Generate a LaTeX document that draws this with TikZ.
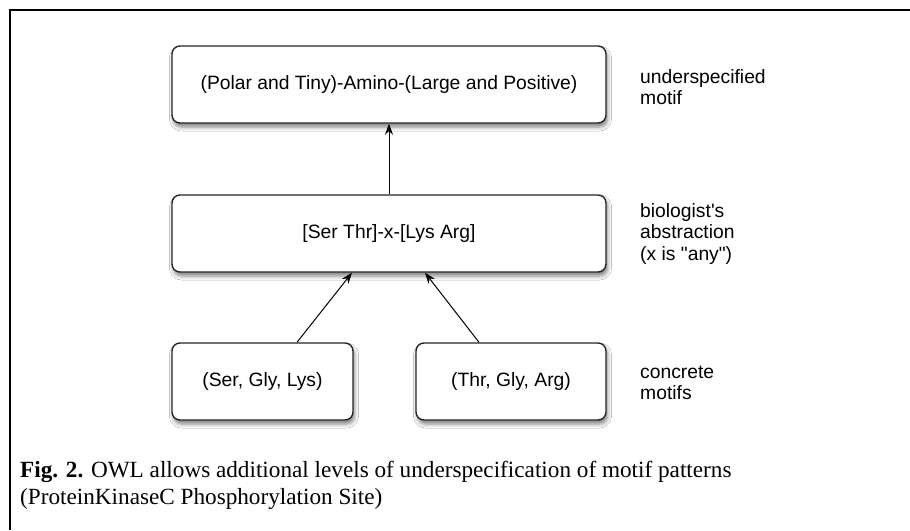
\documentclass[tikz,border=0pt]{standalone}
\usepackage{fontspec}
\newfontfamily\boxfont[Ligatures=TeXOff]{Liberation Sans}
\newfontfamily\capfont{Liberation Serif}
\usetikzlibrary{arrows.meta,shadows.blur}
\tikzset{
  motif/.style={draw=black!85, line width=1.4pt, rounded corners=8pt, fill=white,
    inner sep=0pt, font=\boxfont\fontsize{19.3}{21.5}\selectfont,
    blur shadow={shadow xshift=1.5pt, shadow yshift=-4pt, shadow blur radius=4pt,
      shadow opacity=50}},
  lbl/.style={anchor=west, align=left, inner sep=0pt,
    font=\boxfont\fontsize{19.3}{21.5}\selectfont},
  conn/.style={line width=1pt, -{Stealth[length=11pt,width=8pt]}},
  captxt/.style={anchor=base west, inner sep=0pt, font=\capfont\fontsize{23.2}{27}\selectfont},
  outerframe/.style={line width=2pt, black}
}
\begin{document}
\begin{tikzpicture}[x=1pt,y=-1pt]
\useasboundingbox (0,0) rectangle (910,530);
\fill[white] (0,0) rectangle (910,530);
\coordinate (fa) at (910,10);
\coordinate (fb) at (10,10);
\coordinate (fc) at (10,530);
\draw[outerframe] (fa) -- (fb) -- (fc);

\node[motif, minimum width=434pt, minimum height=77pt] (T) at (389,84.5)
  {(Polar and Tiny)-Amino-(Large and Positive)};
\node[motif, minimum width=434pt, minimum height=77pt] (M) at (389,233.5)
  {[Ser Thr]-x-[Lys Arg]};
\node[motif, minimum width=181pt, minimum height=77pt] (BL) at (262.5,381.5)
  {(Ser, Gly, Lys)};
\node[motif, minimum width=190pt, minimum height=77pt] (BR) at (511,381.5)
  {(Thr, Gly, Arg)};

\node[lbl] (LT) at (640,87) {underspecified\\motif};
\node[lbl] (LM) at (640,234) {biologist's\\abstraction\\(x is "any")};
\node[lbl] (LB) at (640,383) {concrete\\motifs};

\draw[conn] (M.north) -- (T.south);
\draw[conn] ([xshift=34.5pt]BL.north) -- ([xshift=-37pt]M.south);
\draw[conn] ([xshift=-32pt]BR.north) -- ([xshift=36pt]M.south);

\node[captxt] (C1) at (20,477) {\textbf{Fig. 2.} OWL allows additional levels of underspecification of motif patterns};
\node[captxt] (C2) at (20,504) {(ProteinKinaseC Phosphorylation Site)};
\end{tikzpicture}
\end{document}
